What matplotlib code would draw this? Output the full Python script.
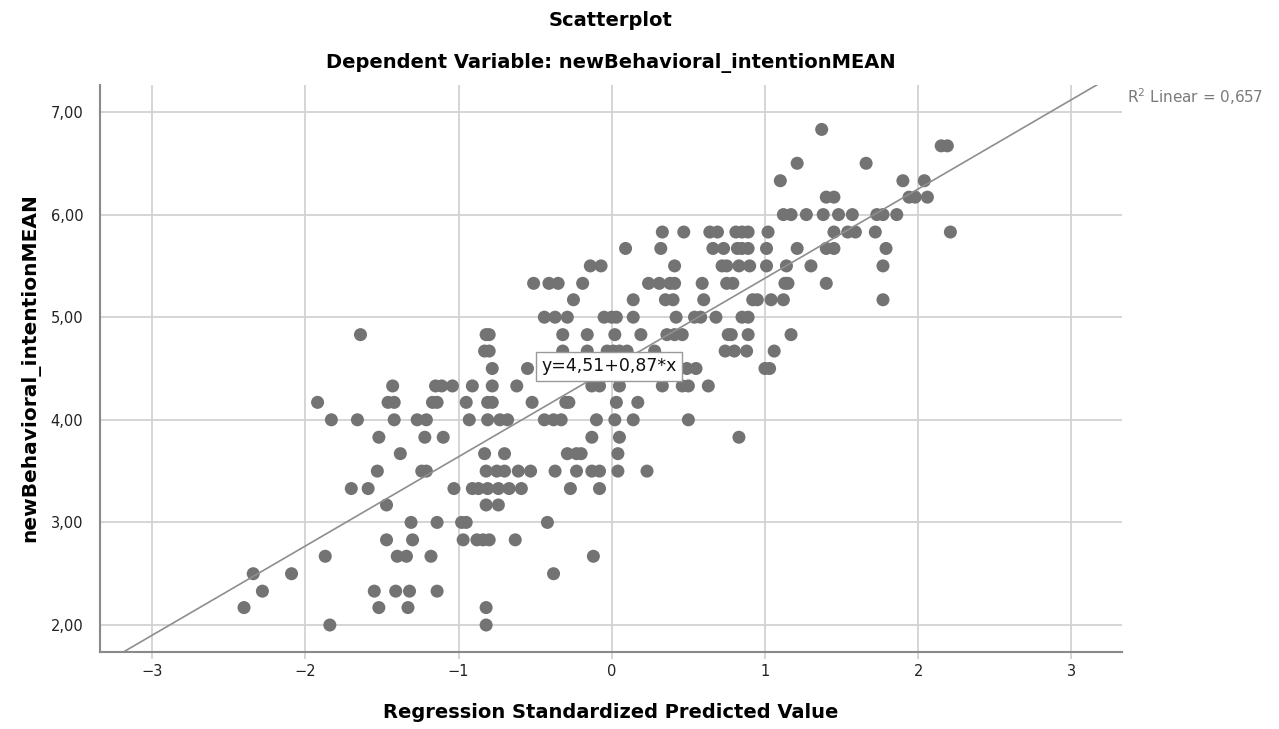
import matplotlib
matplotlib.use("Agg")
import matplotlib.pyplot as plt
import numpy as np

# ============================
# DATA (read off the SPSS scatterplot)
# ============================
# observed values are on a 1/6 grid, so points are grouped by row
levels = [6.83, 6.67, 6.50, 6.33, 6.17, 6.00, 5.83, 5.67, 5.50, 5.33,
          5.17, 5.00, 4.83, 4.67, 4.50, 4.33, 4.17, 4.00, 3.83, 3.67,
          3.50, 3.33, 3.17, 3.00, 2.83, 2.67, 2.50, 2.33, 2.17, 2.00]

pred_by_level = [
    [1.37],
    [2.15, 2.19],
    [1.21, 1.66],
    [1.10, 1.90, 2.04],
    [1.40, 1.45, 1.94, 1.98, 2.06],
    [1.12, 1.17, 1.27, 1.38, 1.48, 1.57, 1.73, 1.77, 1.86],
    [0.33, 0.47, 0.64, 0.69, 0.81, 0.85, 0.89, 1.02, 1.45, 1.54, 1.59, 1.72, 2.21],
    [0.09, 0.32, 0.66, 0.73, 0.82, 0.85, 0.89, 1.01, 1.21, 1.40, 1.45, 1.79],
    [-0.14, -0.07, 0.41, 0.72, 0.75, 0.83, 0.90, 1.01, 1.14, 1.30, 1.77],
    [-0.51, -0.41, -0.35, -0.19, 0.24, 0.31, 0.38, 0.41, 0.59, 0.75, 0.79, 1.13, 1.15, 1.40],
    [-0.25, 0.14, 0.35, 0.40, 0.60, 0.92, 0.95, 1.04, 1.12, 1.77],
    [-0.44, -0.37, -0.29, -0.05, 0.00, 0.03, 0.14, 0.42, 0.54, 0.58, 0.68, 0.85, 0.89],
    [-1.64, -0.82, -0.80, -0.32, -0.16, 0.02, 0.19, 0.36, 0.41, 0.46, 0.76, 0.78, 0.89, 1.17],
    [-0.83, -0.80, -0.32, -0.16, -0.03, 0.01, 0.05, 0.10, 0.28, 0.74, 0.80, 0.88, 1.06],
    [-0.78, -0.55, 0.49, 0.55, 1.00, 1.03],
    [-1.43, -1.15, -1.11, -1.04, -0.91, -0.78, -0.62, -0.13, -0.08, 0.05, 0.33, 0.46, 0.50, 0.63],
    [-1.92, -1.46, -1.42, -1.17, -1.14, -0.95, -0.81, -0.78, -0.52, -0.30, -0.28, 0.03, 0.17],
    [-1.83, -1.66, -1.42, -1.27, -1.21, -0.93, -0.81, -0.73, -0.68, -0.44, -0.38, -0.33,
     -0.10, 0.02, 0.14, 0.50],
    [-1.52, -1.22, -1.10, -0.13, 0.05, 0.83],
    [-1.38, -0.83, -0.70, -0.29, -0.23, -0.20, 0.04],
    [-1.53, -1.24, -1.21, -0.82, -0.75, -0.70, -0.61, -0.53, -0.37, -0.23, -0.13, -0.08,
     0.04, 0.23],
    [-1.70, -1.59, -1.03, -0.91, -0.87, -0.81, -0.74, -0.67, -0.59, -0.27, -0.08],
    [-1.47, -0.82, -0.74],
    [-1.31, -1.14, -0.98, -0.95, -0.42],
    [-1.47, -1.30, -0.97, -0.88, -0.84, -0.80, -0.63],
    [-1.87, -1.40, -1.34, -1.18, -0.12],
    [-2.34, -2.09, -0.38],
    [-2.28, -1.55, -1.41, -1.32, -1.14],
    [-2.40, -1.52, -1.33, -0.82],
    [-1.84, -0.82],
]

fit_intercept = 4.51
fit_slope = 0.87
r2_linear = "0,657"

x_ticks = [-3, -2, -1, 0, 1, 2, 3]
y_ticks = [2, 3, 4, 5, 6, 7]

xs = [x for row in pred_by_level for x in row]
ys = [lv for lv, row in zip(levels, pred_by_level) for _ in row]

# ============================
# PLOT
# ============================
fig = plt.figure(figsize=(12.79, 7.29), dpi=100)
ax = fig.add_axes([100 / 1279, 77 / 729, 1022 / 1279, 567 / 729])

grid_c = "#d2d2d2"
axis_c = "#8a8a8a"

ax.set_xlim(-3.34, 3.33)
ax.set_ylim(1.737, 7.263)
ax.set_xticks(x_ticks)
ax.set_yticks(y_ticks)
ax.set_xticklabels([str(t).replace("-", "\u2212") for t in x_ticks])
ax.set_yticklabels([f"{t:.2f}".replace(".", ",") for t in y_ticks])
ax.grid(True, color=grid_c, linewidth=1.3)
ax.set_axisbelow(True)

for s in ["top", "right"]:
    ax.spines[s].set_visible(False)
for s in ["left", "bottom"]:
    ax.spines[s].set_color(axis_c)
    ax.spines[s].set_linewidth(1.5)

ax.tick_params(axis="x", length=5, width=1.3, color=grid_c, labelsize=10.5,
               labelcolor="#222222", pad=4)
ax.tick_params(axis="y", length=0, labelsize=10.5, labelcolor="#222222", pad=12)

ax.scatter(xs, ys, s=88, color="#737373", edgecolors="none", zorder=3)

lx = np.array([-3.5, 3.5])
ax.plot(lx, fit_intercept + fit_slope * lx, color="#8e8e8e", linewidth=1.2, zorder=4)

ax.text(-0.02, 4.52, "y=4,51+0,87*x", fontsize=12.5, ha="center", va="center",
        color="#111111", zorder=5,
        bbox=dict(boxstyle="square,pad=0.3", facecolor="white", edgecolor="#999999",
                  linewidth=1))

fig.text(1127 / 1279, 1 - 97 / 729, "R$^2$ Linear = " + r2_linear, fontsize=11,
         color="#7a7a7a", ha="left", va="center")

fig.text(611 / 1279, 1 - 20 / 729, "Scatterplot", fontsize=14, fontweight="bold",
         ha="center", va="center")
fig.text(611 / 1279, 1 - 63 / 729, "Dependent Variable: newBehavioral_intentionMEAN",
         fontsize=14, fontweight="bold", ha="center", va="center")

fig.text(611 / 1279, 1 - 713 / 729, "Regression Standardized Predicted Value",
         fontsize=14, fontweight="bold", ha="center", va="center")
fig.text(30 / 1279, 1 - 368 / 729, "newBehavioral_intentionMEAN", fontsize=14.5,
         fontweight="bold", ha="center", va="center", rotation=90)

fig.savefig("out.png", dpi=100)
